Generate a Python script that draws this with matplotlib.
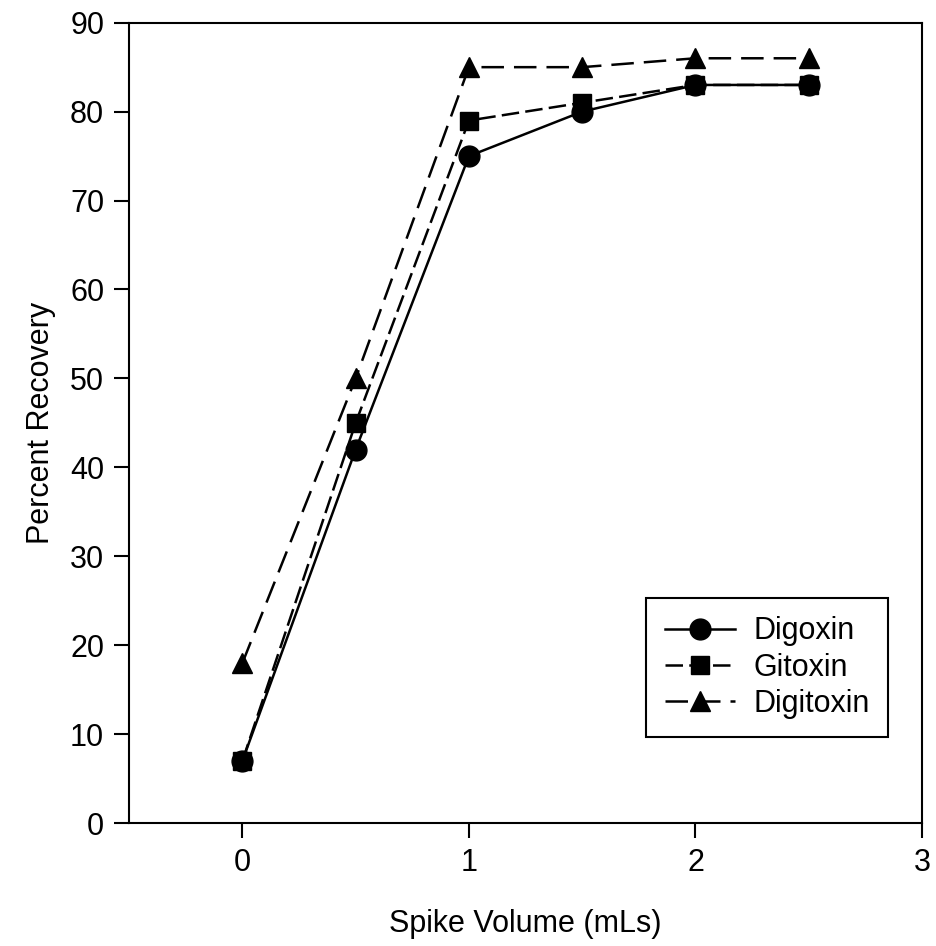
import matplotlib
matplotlib.use("Agg")
import matplotlib.pyplot as plt

plt.rcParams['font.family'] = ['Liberation Sans', 'DejaVu Sans']

spike_volume = [0, 0.5, 1, 1.5, 2, 2.5]
digoxin = [7, 42, 75, 80, 83, 83]
gitoxin = [7, 45, 79, 81, 83, 83]
digitoxin = [18, 50, 85, 85, 86, 86]

x_ticks = [0, 1, 2, 3]
y_ticks = [0, 10, 20, 30, 40, 50, 60, 70, 80, 90]

fig = plt.figure(figsize=(9.36, 9.46), dpi=100)
ax = fig.add_axes([0.138, 0.130, 0.847, 0.846])

lw = 1.8
ax.plot(spike_volume, digoxin, color='black', lw=lw, ls='-', marker='o',
        markersize=15, label='Digoxin')
ax.plot(spike_volume, gitoxin, color='black', lw=lw, ls=(0, (7, 2.5)), marker='s',
        markersize=13, label='Gitoxin')
ax.plot(spike_volume, digitoxin, color='black', lw=lw, ls=(0, (9, 4)), marker='^',
        markersize=15, label='Digitoxin')

ax.set_xlim(-0.5, 3)
ax.set_ylim(0, 90)
ax.set_xticks(x_ticks)
ax.set_yticks(y_ticks)
ax.tick_params(direction='out', length=11, width=1.5, labelsize=22, pad=7,
               top=False, right=False)
for s in ax.spines.values():
    s.set_linewidth(1.5)

ax.set_xlabel('Spike Volume (mLs)', fontsize=22, labelpad=22)
ax.set_ylabel('Percent Recovery', fontsize=22, labelpad=10)

leg = ax.legend(loc='lower right', bbox_to_anchor=(0.957, 0.1075), fontsize=22,
                fancybox=False, edgecolor='black', framealpha=1,
                handlelength=2.3, handletextpad=0.6, labelspacing=0.2,
                borderpad=0.6, borderaxespad=0)
leg.get_frame().set_linewidth(1.5)

fig.savefig('out.png', dpi=100)
